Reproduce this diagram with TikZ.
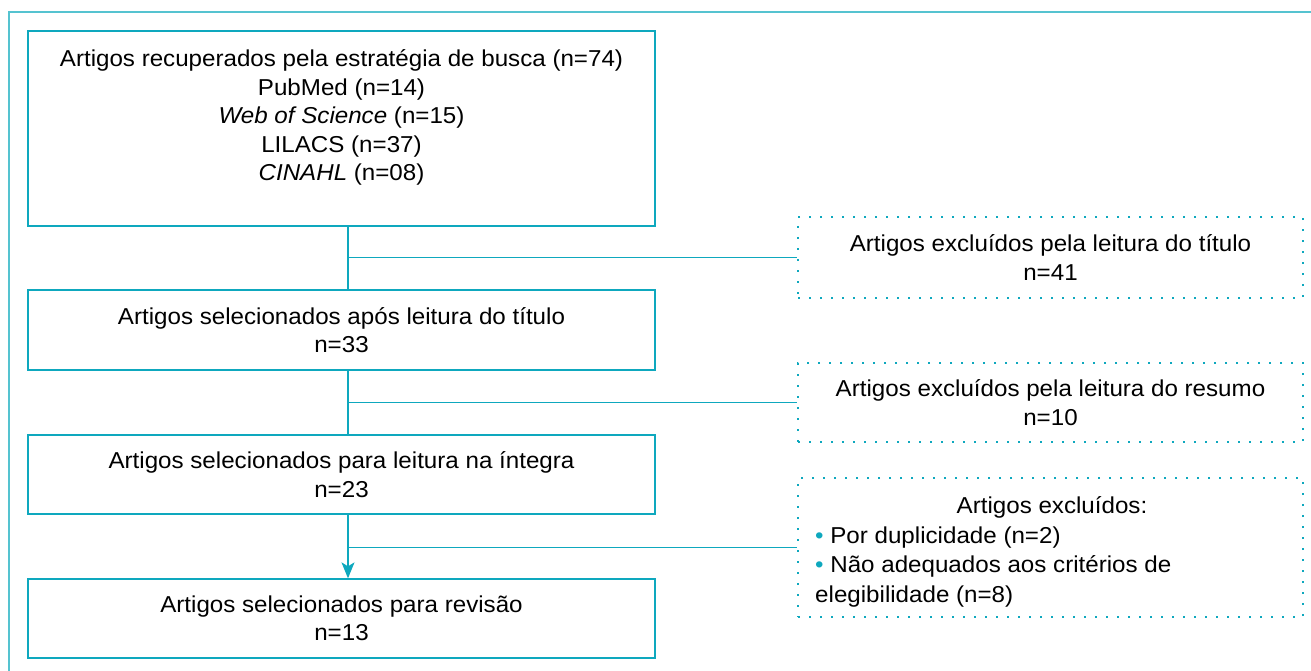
\documentclass[tikz,border=0pt]{standalone}
\usepackage{fontspec}
\setmainfont[FakeStretch=1.05]{Liberation Sans}
\usetikzlibrary{arrows.meta}
\definecolor{fluxo}{HTML}{0EA8BE}
\definecolor{moldura}{HTML}{55C3D0}
\newcommand{\marca}{{\color{fluxo}\textbullet}}

\begin{document}
\begin{tikzpicture}[x=1pt, y=-1pt, >={Stealth[length=16pt,width=13pt,inset=4pt]},
    caixa/.style={draw=fluxo, line width=1.3pt, minimum width=627pt, inner sep=0pt},
    exclusao/.style={draw=fluxo, line width=2pt, dash pattern=on 2pt off 9pt, minimum width=505pt, inner sep=0pt},
    texto/.style={font=\fontsize{23}{28.5}\selectfont, align=center, inner sep=0pt},
    ligacao/.style={draw=fluxo, line width=1.3pt}]
  \useasboundingbox (0, 0) rectangle (1311, 671);
  \draw[moldura, line width=2.2pt] (9, 671) -- (9, 12) -- (1311, 12);
  \coordinate (tronco) at (348, 0);

  % caixas principais
  \node[caixa, minimum height=195pt] (rec) at (341.5, 128.5) {};
  \node[texto, anchor=base] (rectxt) at (341.5, 180.5) {Artigos recuperados pela estratégia de busca (n=74)\\
    PubMed (n=14)\\ \textit{Web of Science} (n=15)\\ LILACS (n=37)\\ \textit{CINAHL} (n=08)};
  \node[caixa, texto, minimum height=80pt] (sel1) at (341.5, 330) {Artigos selecionados após leitura do título\\ n=33};
  \node[caixa, texto, minimum height=79pt] (sel2) at (341.5, 474.5) {Artigos selecionados para leitura na íntegra\\ n=23};
  \node[caixa, texto, minimum height=79pt] (fim) at (341.5, 618.5) {Artigos selecionados para revisão\\ n=13};

  % caixas de exclusao
  \node[exclusao, texto, minimum height=81pt] (exc1) at (1050.5, 257.5) {Artigos excluídos pela leitura do título\\ n=41};
  \node[exclusao, texto, minimum height=79pt] (exc2) at (1050.5, 402.5) {Artigos excluídos pela leitura do resumo\\ n=10};
  \node[exclusao, minimum height=139pt] (exc3) at (1050.5, 547.5) {};
  \node[texto, anchor=base] (exc3tit) at (1052, 513) {Artigos excluídos:};
  \node[texto, align=left, anchor=base west, font=\fontsize{23}{29.5}\selectfont] (exc3lst) at (815, 602)
    {\marca{} Por duplicidade (n=2)\\ \marca{} Não adequados aos critérios de\\ elegibilidade (n=8)};

  % ligacoes
  \draw[ligacao] (rec.south -| tronco) -- (sel1.north -| tronco);
  \draw[ligacao] (tronco |- exc1.west) -- (exc1.west);
  \draw[ligacao] (sel1.south -| tronco) -- (sel2.north -| tronco);
  \draw[ligacao] (tronco |- exc2.west) -- (exc2.west);
  \draw[ligacao, ->] (sel2.south -| tronco) -- (fim.north -| tronco);
  \draw[ligacao] (tronco |- exc3.west) -- (exc3.west);
\end{tikzpicture}
\end{document}
